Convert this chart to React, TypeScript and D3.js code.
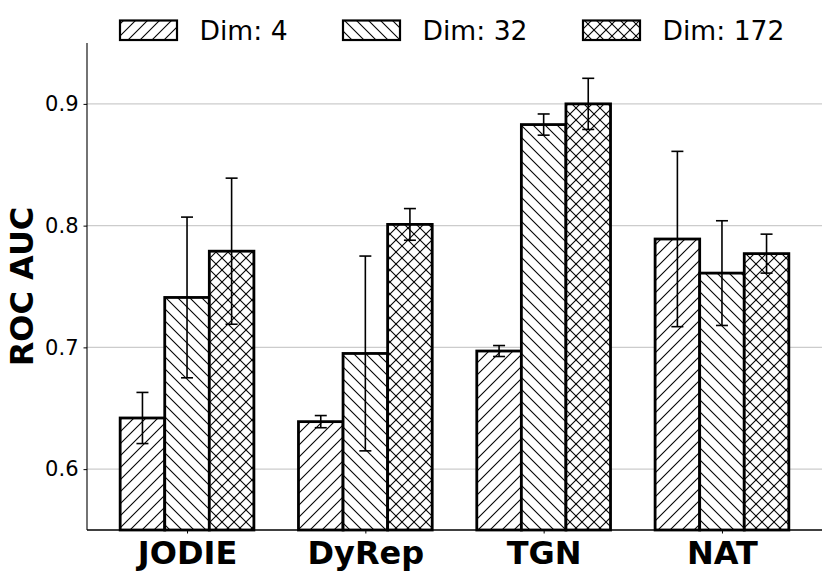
import React, { useEffect, useRef } from 'react';
import * as d3 from 'd3';

const categories = ['JODIE', 'DyRep', 'TGN', 'NAT'];
const dimLabels = ['Dim: 4', 'Dim: 32', 'Dim: 172'];
const dim4Mean = [0.642, 0.639, 0.697, 0.789];
const dim4Std = [0.021, 0.005, 0.0045, 0.072];
const dim32Mean = [0.741, 0.695, 0.883, 0.761];
const dim32Std = [0.066, 0.08, 0.0087, 0.043];
const dim172Mean = [0.779, 0.801, 0.9, 0.777];
const dim172Std = [0.06, 0.013, 0.021, 0.016];
const yTicks = [0.6, 0.7, 0.8, 0.9];

export default function App(): JSX.Element {
  const divRef = useRef<HTMLDivElement>(null);

  useEffect(() => {
    const divEle = divRef.current;
    if (divEle == null) {
      return;
    }
    d3.select(divEle).selectAll('*').remove();

    const W = 830;
    const H = 578;
    const margin = { top: 43, right: 8, bottom: 48, left: 87 };
    const FONT = 'DejaVu Sans, sans-serif';

    const means = [dim4Mean, dim32Mean, dim172Mean];
    const stds = [dim4Std, dim32Std, dim172Std];
    const hatchIds = ['hatch-fwd', 'hatch-back', 'hatch-cross'];

    const svg = d3
      .select(divEle)
      .append('svg')
      .attr('width', W)
      .attr('height', H)
      .style('display', 'block');

    // hatch patterns like matplotlib '/', '\\', 'x'
    const defs = svg.append('defs');
    const T = 12;
    const addPattern = (id: string, fwd: boolean, back: boolean) => {
      const p = defs
        .append('pattern')
        .attr('id', id)
        .attr('patternUnits', 'userSpaceOnUse')
        .attr('width', T)
        .attr('height', T);
      p.append('rect').attr('width', T).attr('height', T).attr('fill', 'white');
      const segs: number[][] = [];
      if (fwd) {
        segs.push([0, T, T, 0], [-2, 2, 2, -2], [T - 2, T + 2, T + 2, T - 2]);
      }
      if (back) {
        segs.push([0, 0, T, T], [-2, T - 2, 2, T + 2], [T - 2, -2, T + 2, 2]);
      }
      segs.forEach((s) => {
        p.append('line')
          .attr('x1', s[0])
          .attr('y1', s[1])
          .attr('x2', s[2])
          .attr('y2', s[3])
          .attr('stroke', '#000')
          .attr('stroke-width', 1.1);
      });
    };
    addPattern(hatchIds[0], true, false);
    addPattern(hatchIds[1], false, true);
    addPattern(hatchIds[2], true, true);

    const y = d3
      .scaleLinear()
      .domain([0.55, 0.95])
      .range([H - margin.bottom, margin.top]);
    const x = d3
      .scalePoint()
      .domain(categories)
      .range([margin.left, W - margin.right])
      .padding(0.561);
    const step = x.step();
    const inner = d3
      .scaleBand()
      .domain(dimLabels)
      .range([-0.375 * step, 0.375 * step]);
    const bw = inner.bandwidth();

    // grid
    svg
      .append('g')
      .selectAll('line')
      .data(yTicks)
      .enter()
      .append('line')
      .attr('x1', margin.left)
      .attr('x2', W - margin.right)
      .attr('y1', (d) => y(d))
      .attr('y2', (d) => y(d))
      .attr('stroke', '#cccccc')
      .attr('stroke-width', 1.3);

    // bars
    dimLabels.forEach((dim, i) => {
      const g = svg.append('g');
      g.selectAll('rect')
        .data(categories)
        .enter()
        .append('rect')
        .attr('x', (c) => (x(c) || 0) + (inner(dim) || 0))
        .attr('y', (c, j) => y(means[i][j]))
        .attr('width', bw)
        .attr('height', (c, j) => y(0.55) - y(means[i][j]))
        .attr('fill', `url(#${hatchIds[i]})`)
        .attr('stroke', '#000')
        .attr('stroke-width', 2.8);
    });

    // error bars
    dimLabels.forEach((dim, i) => {
      const g = svg.append('g').attr('stroke', '#000').attr('stroke-width', 1.6);
      categories.forEach((c, j) => {
        const cx = (x(c) || 0) + (inner(dim) || 0) + bw / 2;
        const lo = y(means[i][j] - stds[i][j]);
        const hi = y(means[i][j] + stds[i][j]);
        g.append('line').attr('x1', cx).attr('x2', cx).attr('y1', lo).attr('y2', hi);
        g.append('line').attr('x1', cx - 6).attr('x2', cx + 6).attr('y1', lo).attr('y2', lo);
        g.append('line').attr('x1', cx - 6).attr('x2', cx + 6).attr('y1', hi).attr('y2', hi);
      });
    });

    // axes
    const yAxis = svg
      .append('g')
      .attr('transform', `translate(${margin.left},0)`)
      .call(d3.axisLeft(y).tickValues(yTicks).tickSize(3.5).tickFormat(d3.format('.1f')));
    yAxis.select('.domain').attr('stroke', '#000').attr('stroke-width', 1.1).attr('d', `M0,${y(0.95)}V${y(0.55)}`);
    yAxis
      .selectAll('text')
      .attr('font-family', FONT)
      .attr('font-size', 21)
      .attr('fill', '#000')
      .attr('x', -8.5);

    const xAxis = svg
      .append('g')
      .attr('transform', `translate(0,${H - margin.bottom})`)
      .call(d3.axisBottom(x).tickSize(3.5));
    xAxis.select('.domain').attr('stroke', '#000').attr('stroke-width', 1.3).attr('d', `M${margin.left},0H${W - margin.right}`);
    xAxis
      .selectAll('text')
      .attr('font-family', FONT)
      .attr('font-size', 32)
      .attr('font-weight', 'bold')
      .attr('fill', '#000')
      .attr('dy', null)
      .attr('y', 33.5);

    // y label
    svg
      .append('text')
      .attr('transform', `translate(33,${(margin.top + H - margin.bottom) / 2}) rotate(-90)`)
      .attr('text-anchor', 'middle')
      .attr('font-family', FONT)
      .attr('font-size', 32)
      .attr('font-weight', 'bold')
      .text('ROC AUC');

    // legend
    const legendX = [120, 343, 583];
    const legend = svg.append('g');
    dimLabels.forEach((dim, i) => {
      legend
        .append('rect')
        .attr('x', legendX[i])
        .attr('y', 20.5)
        .attr('width', 57)
        .attr('height', 19.5)
        .attr('fill', `url(#${hatchIds[i]})`)
        .attr('stroke', '#000')
        .attr('stroke-width', 2.2);
      legend
        .append('text')
        .attr('x', legendX[i] + 79.5)
        .attr('y', 39.5)
        .attr('font-family', FONT)
        .attr('font-size', 26.6)
        .text(dim);
    });
  });

  return (
    <div
      ref={divRef}
      style={{ position: 'absolute', left: 0, top: 0, width: 830, height: 578, background: 'white' }}
    />
  );
}
